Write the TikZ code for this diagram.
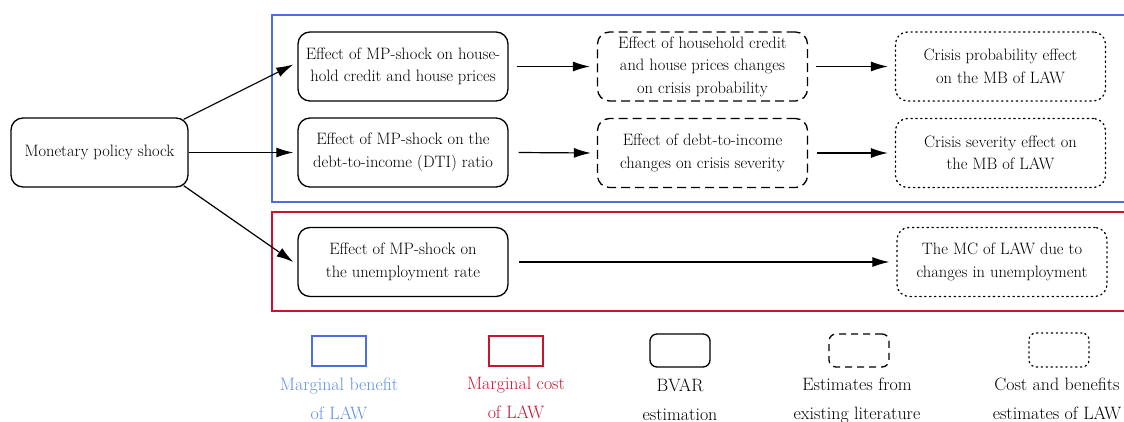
\documentclass[tikz,border=0pt]{standalone}
\usepackage{fontspec}
\usetikzlibrary{arrows.meta}
\definecolor{mbblue}{RGB}{75,110,225}
\definecolor{mbtext}{RGB}{95,145,225}
\definecolor{mcred}{RGB}{200,20,45}
\begin{document}
\begin{tikzpicture}[x=1pt,y=-1pt,
  every node/.style={font=\fontsize{16.5}{22.5}\selectfont, align=center},
  bvar/.style={draw, line width=1.3pt, rounded corners=12pt, minimum width=210pt, minimum height=69pt, inner sep=0pt},
  lit/.style={bvar, dashed, dash pattern=on 9pt off 5pt},
  cb/.style={bvar, dotted, dash pattern=on 1.3pt off 3.6pt, line cap=round},
  arr/.style={-{Latex[length=17pt,width=10pt]}, line width=1.2pt},
  frame/.style={line width=1.2pt},
  legtext/.style={font=\fontsize{17.9}{29}\selectfont}
]
\useasboundingbox (0,0) rectangle (1124,421);
% frames
\draw[frame, mbblue] (272,15) rectangle (1140,202);
\draw[frame, mcred] (272,212) rectangle (1140,311);
% nodes
\node[bvar, minimum width=177pt] (mp) at (99.5,152.5) {Monetary policy shock};
\node[bvar] (a1) at (403,66.5) {Effect of MP-shock on house-\\hold credit and house prices};
\node[bvar] (a2) at (403,152.5) {Effect of MP-shock on the\\debt-to-income (DTI) ratio};
\node[bvar] (a3) at (403,262) {Effect of MP-shock on\\the unemployment rate};
\node[lit] (b1) at (702.5,66.5) {Effect of household credit\\and house prices changes\\on crisis probability};
\node[lit] (b2) at (702.5,153) {Effect of debt-to-income\\changes on crisis severity};
\node[cb] (c1) at (1000.5,66.5) {Crisis probability effect\\on the MB of LAW};
\node[cb] (c2) at (1000.5,153) {Crisis severity effect on\\the MB of LAW};
\node[cb] (c3) at (1002,262) {The MC of LAW due to\\changes in unemployment};
% arrows
\draw[arr] (mp.north east) ++(-5,2) coordinate (s1) -- ([xshift=-4pt,yshift=2pt]a1.west);
\draw[arr] (mp.east) -- ([xshift=-4pt]a2.west);
\draw[arr] (mp.south east) ++(-5,-2) coordinate (s3) -- ([xshift=-4pt]a3.west);
\draw[arr] ([xshift=8pt]a1.east) -- ([xshift=-7pt]b1.west);
\draw[arr] ([xshift=10pt]a2.east) -- ([xshift=-6pt]b2.west);
\draw[arr] ([xshift=8pt]b1.east) -- ([xshift=-7pt]c1.west);
\draw[arr] ([xshift=9pt]b2.east) -- ([xshift=-7pt]c2.west);
\draw[arr] ([xshift=10pt]a3.east) -- ([xshift=-7pt]c3.west);
% legend
\draw[frame, mbblue] (312,336) rectangle (366,366);
\draw[frame, mcred] (489,336) rectangle (543,366);
\node[bvar, minimum width=60pt, minimum height=33pt, rounded corners=7pt] (l3) at (680,350.5) {};
\node[lit, minimum width=60pt, minimum height=33pt, rounded corners=7pt, dash pattern=on 7pt off 5pt] (l4) at (859,350.5) {};
\node[cb, minimum width=60pt, minimum height=34pt, rounded corners=7pt] (l5) at (1059,350) {};
\node[legtext, mbtext, anchor=north] (t1) at (339,374) {Marginal benefit\\of LAW};
\node[legtext, mcred, anchor=north] (t2) at (516,374) {Marginal cost\\of LAW};
\node[legtext, anchor=north] (t3) at (680,375) {BVAR\\estimation};
\node[legtext, anchor=north] (t4) at (857,374) {Estimates from\\existing literature};
\node[legtext, anchor=north] (t5) at (1057,374) {Cost and benefits\\estimates of LAW};
\end{tikzpicture}
\end{document}
